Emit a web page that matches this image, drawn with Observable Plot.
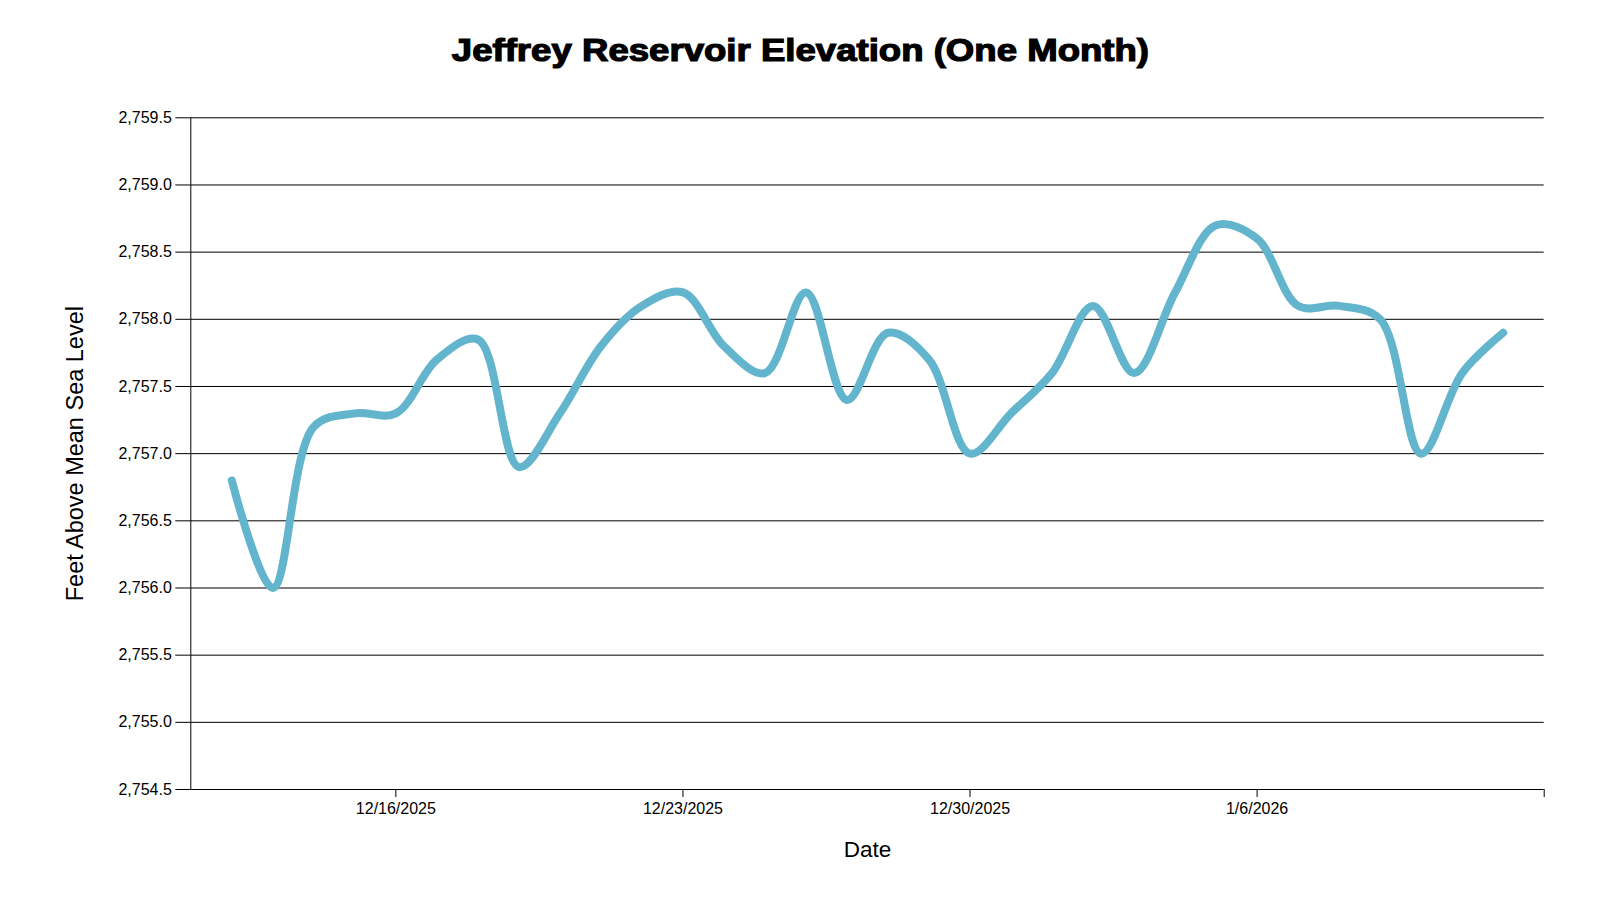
<!DOCTYPE html>
<html>
<head>
<meta charset="utf-8">
<script src="https://cdn.jsdelivr.net/npm/d3@7"></script>
<script src="https://cdn.jsdelivr.net/npm/@observablehq/plot@0.6"></script>
<style>
  html, body { margin: 0; padding: 0; background: #fff; }
  #wrap { width: 1600px; }
  #title {
    height: 80px; box-sizing: border-box; padding-top: 35px;
    text-align: center;
  }
  #title span {
    display: inline-block; transform: scaleX(1.18); transform-origin: center;
    font-family: "Liberation Sans", Arial, sans-serif; font-weight: bold;
    font-size: 31px; line-height: 31px; color: #000;
    -webkit-text-stroke: 1.2px #000;
  }
</style>
</head>
<body>
<div id="wrap">
  <div id="title"><span>Jeffrey Reservoir Elevation (One Month)</span></div>
  <div id="chart"></div>
</div>
<script>
const dates = [
  "2025-12-12","2025-12-13","2025-12-14","2025-12-15","2025-12-16","2025-12-17","2025-12-18",
  "2025-12-19","2025-12-20","2025-12-21","2025-12-22","2025-12-23","2025-12-24","2025-12-25",
  "2025-12-26","2025-12-27","2025-12-28","2025-12-29","2025-12-30","2025-12-31","2026-01-01",
  "2026-01-02","2026-01-03","2026-01-04","2026-01-05","2026-01-06","2026-01-07","2026-01-08",
  "2026-01-09","2026-01-10","2026-01-11","2026-01-12"
];
const elevations = [
  2756.8, 2756.0, 2757.2, 2757.3, 2757.3, 2757.7, 2757.85,
  2756.9, 2757.3, 2757.8, 2758.1, 2758.2, 2757.8, 2757.6,
  2758.2, 2757.4, 2757.9, 2757.7, 2757.0, 2757.3, 2757.6,
  2758.1, 2757.6, 2758.2, 2758.7, 2758.6, 2758.1, 2758.1,
  2758.0, 2757.0, 2757.6, 2757.9
];
const xDomainLabels = ["2025-12-11", "2026-01-13"];
const xTickLabels = ["2025-12-16", "2025-12-23", "2025-12-30", "2026-01-06"];
const yTicks = [2754.5, 2755.0, 2755.5, 2756.0, 2756.5, 2757.0, 2757.5, 2758.0, 2758.5, 2759.0, 2759.5];
const xLabel = "Date";
const yLabel = "Feet Above Mean Sea Level";

const parse = s => new Date(s + "T00:00:00Z");
const data = dates.map((d, i) => ({date: parse(d), value: elevations[i]}));
const xDomain = xDomainLabels.map(parse);
const xTicks = xTickLabels.map(parse);
const fmtDate = d => `${d.getUTCMonth() + 1}/${d.getUTCDate()}/${d.getUTCFullYear()}`;

const chart = Plot.plot({
  width: 1600,
  height: 820,
  marginTop: 37.3,
  marginBottom: 111,
  marginLeft: 190.3,
  marginRight: 56.3,
  style: {fontFamily: "'Liberation Sans', Arial, sans-serif", fontSize: "16px", color: "#000", background: "#fff"},
  x: {type: "utc", domain: xDomain},
  y: {domain: [2754.5, 2759.5]},
  marks: [
    Plot.gridY(yTicks, {stroke: "#000", strokeOpacity: 1, strokeWidth: 1}),
    Plot.axisY({ticks: yTicks, tickFormat: d3.format(",.1f"), tickSize: 15, tickPadding: 4, label: null, stroke: "#000", fontSize: 16}),
    Plot.axisX({ticks: xTicks, tickFormat: fmtDate, tickSize: 8, tickPadding: 5, label: null, stroke: "#000", fontSize: 16}),
    Plot.axisX({ticks: [xDomain[1]], tickFormat: () => "", tickSize: 8, label: null, stroke: "#000"}),
    Plot.ruleX([xDomain[0]], {stroke: "#000", strokeWidth: 1}),
    Plot.line(data, {x: "date", y: "value", curve: "catmull-rom", stroke: "#63b4cd", strokeWidth: 8, strokeLinecap: "round", strokeLinejoin: "round"}),
    Plot.text([xLabel], {text: d => d, frameAnchor: "bottom", dy: 67.7, lineAnchor: "bottom", textAnchor: "middle", fontSize: 22.5, fill: "#000"}),
    Plot.text([yLabel], {text: d => d, frameAnchor: "left", dx: -108, rotate: -90, lineAnchor: "bottom", textAnchor: "middle", fontSize: 23.5, fill: "#000"})
  ]
});
document.getElementById("chart").appendChild(chart);
</script>
</body>
</html>
